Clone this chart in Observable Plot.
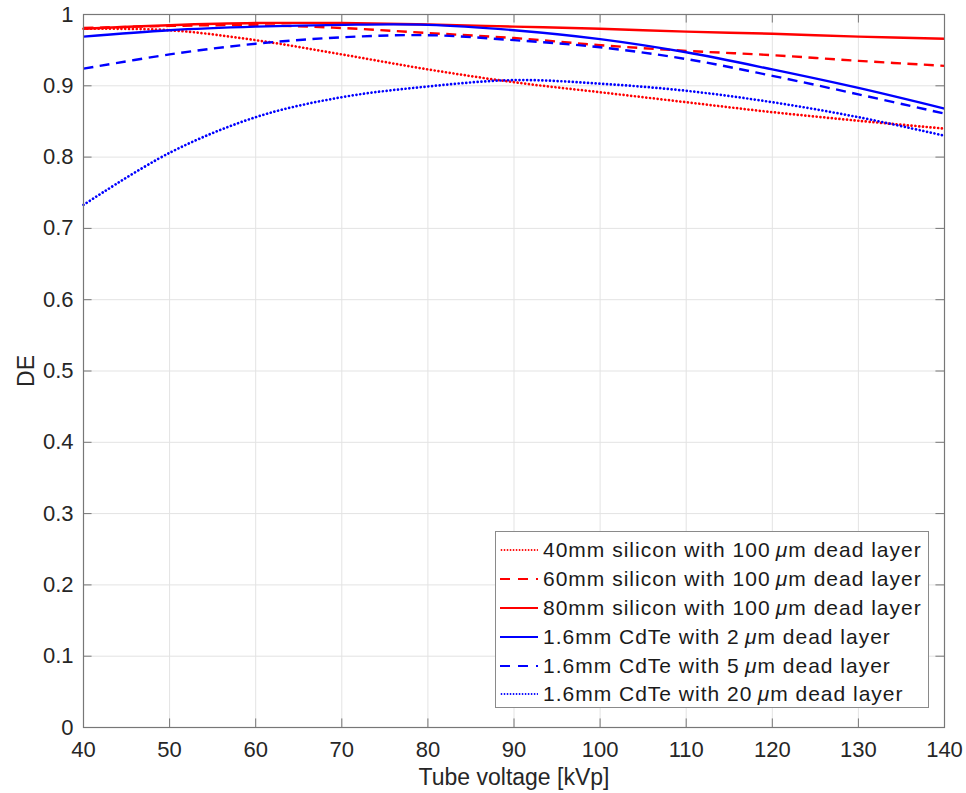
<!DOCTYPE html>
<html>
<head>
<meta charset="utf-8">
<script src="https://cdn.jsdelivr.net/npm/d3@7"></script>
<script src="https://cdn.jsdelivr.net/npm/@observablehq/plot@0.6"></script>
<style>
  html, body { margin: 0; padding: 0; background: #fff; }
  #wrap { position: relative; width: 966px; height: 793px; font-family: "Liberation Sans", Arial, sans-serif; }
  #legend { position: absolute; left: 495px; top: 531px; width: 434px; height: 177px; background: #fff; border: 1px solid #8a8a8a; box-sizing: border-box; padding-top: 4px; }
  .row { display: flex; align-items: center; height: 28.8px; font-size: 21px; letter-spacing: 1px; color: #1a1a1a; white-space: nowrap; }
  .row svg { margin-left: 4px; margin-right: 5px; flex: none; }
</style>
</head>
<body>
<div id="wrap"><div id="chart"></div><div id="legend"></div></div>
<script>
// Tube voltage (kVp)
const kvp = [40, 50, 60, 70, 80, 90, 100, 110, 120, 130, 140];
// Detection efficiency per detector configuration
const si40 = [0.980, 0.978, 0.964, 0.944, 0.923, 0.905, 0.891, 0.877, 0.863, 0.851, 0.840];
const si60 = [0.981, 0.984, 0.985, 0.981, 0.974, 0.967, 0.957, 0.949, 0.943, 0.935, 0.928];
const si80 = [0.980, 0.985, 0.988, 0.988, 0.986, 0.983, 0.980, 0.976, 0.973, 0.969, 0.966];
const cdte2 = [0.969, 0.978, 0.983, 0.9855, 0.9855, 0.978, 0.9655, 0.947, 0.923, 0.897, 0.868];
const cdte5 = [0.924, 0.944, 0.959, 0.968, 0.971, 0.964, 0.954, 0.9375, 0.914, 0.888, 0.861];
const cdte20 = [0.733, 0.806, 0.856, 0.884, 0.899, 0.908, 0.903, 0.893, 0.877, 0.856, 0.830];

const legendPrefix = ["40mm silicon with 100", "60mm silicon with 100", "80mm silicon with 100", "1.6mm CdTe with 2", "1.6mm CdTe with 5", "1.6mm CdTe with 20"];
const seriesValues = [si40, si60, si80, cdte2, cdte5, cdte20];
const seriesColor = ["#ff0000", "#ff0000", "#ff0000", "#0000ff", "#0000ff", "#0000ff"];
const seriesStyle = ["dotted", "dashed", "solid", "solid", "dashed", "dotted"];

const dashFor = s => s === "dotted" ? "0.01,3.8" : s === "dashed" ? "10,6.5" : null;
const widthFor = s => s === "dotted" ? 2.7 : 2.4;

const xTicks = [40, 50, 60, 70, 80, 90, 100, 110, 120, 130, 140];
const yTicks = [0, 0.1, 0.2, 0.3, 0.4, 0.5, 0.6, 0.7, 0.8, 0.9, 1];

const lineMarks = seriesValues.map((vals, i) =>
  Plot.line(kvp.map((k, j) => ({kvp: k, de: vals[j]})), {
    x: "kvp", y: "de", stroke: seriesColor[i], strokeWidth: widthFor(seriesStyle[i]),
    strokeDasharray: dashFor(seriesStyle[i]), curve: "catmull-rom",
    strokeLinecap: seriesStyle[i] === "dotted" ? "round" : "butt"
  })
);

const tickLen = 0.012;
const chart = Plot.plot({
  width: 966, height: 793,
  marginLeft: 83, marginRight: 22, marginTop: 14, marginBottom: 66,
  style: {fontFamily: "'Liberation Sans', Arial, sans-serif", fontSize: "22px", color: "#262626", background: "#fff"},
  x: {domain: [40, 140]},
  y: {domain: [0, 1]},
  marks: [
    Plot.gridX(xTicks, {stroke: "#e3e3e3", strokeOpacity: 1}),
    Plot.gridY(yTicks, {stroke: "#e3e3e3", strokeOpacity: 1}),
    Plot.ruleX(xTicks, {y1: 0, y2: tickLen, stroke: "#777"}),
    Plot.ruleX(xTicks, {y1: 1, y2: 1 - tickLen, stroke: "#777"}),
    Plot.ruleY(yTicks, {x1: 40, x2: 40 + 100 * tickLen * 713 / 861, stroke: "#777"}),
    Plot.ruleY(yTicks, {x1: 140, x2: 140 - 100 * tickLen * 713 / 861, stroke: "#777"}),
    Plot.axisX(xTicks, {tickSize: 0, tickPadding: 14, fontSize: 22, fill: "#262626", label: null}),
    Plot.axisX({tickSize: 0, ticks: [], label: "Tube voltage [kVp]", labelAnchor: "center", labelArrow: "none", labelOffset: 57, fontSize: 23, fill: "#262626"}),
    Plot.axisY(yTicks, {tickSize: 0, tickPadding: 10, tickFormat: d => String(d), fontSize: 22, fill: "#262626", label: null}),
    Plot.axisY({tickSize: 0, ticks: [], label: "DE", labelAnchor: "center", labelArrow: "none", labelOffset: 66, fontSize: 23, fill: "#262626"}),
    ...lineMarks,
    Plot.frame({stroke: "#777", strokeWidth: 1.2})
  ]
});
document.getElementById("chart").appendChild(chart);

// Legend
const legend = d3.select("#legend");
legendPrefix.forEach((prefix, i) => {
  const row = legend.append("div").attr("class", "row");
  const s = row.append("svg").attr("width", 38).attr("height", 10);
  const st = seriesStyle[i];
  s.append("line").attr("x1", st === "dotted" ? 1.5 : 0).attr("x2", 38).attr("y1", 5).attr("y2", 5)
    .attr("stroke", seriesColor[i]).attr("stroke-width", st === "dotted" ? 1.8 : 2.2)
    .attr("stroke-linecap", st === "dotted" ? "round" : "butt")
    .attr("stroke-dasharray", st === "dotted" ? "0.01,3" : st === "dashed" ? "10,8" : null);
  const t = row.append("span");
  t.append("span").text(prefix + "\u2009");
  t.append("span").html("<i>&mu;</i>m dead layer");
});
</script>
</body>
</html>
